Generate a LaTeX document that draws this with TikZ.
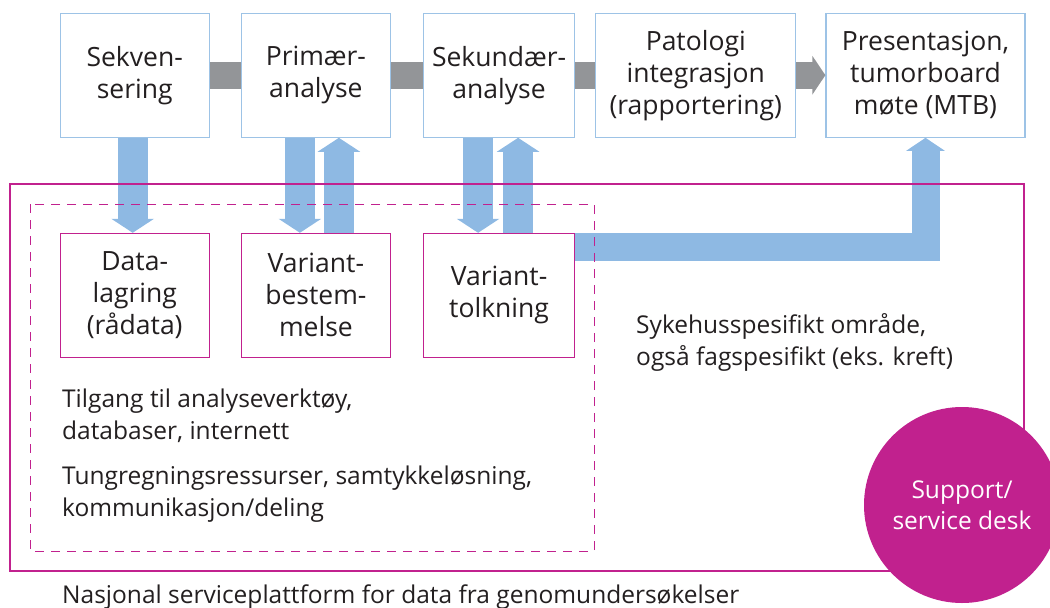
\documentclass[tikz,border=0pt]{standalone}
\usepackage{fontspec}
\setmainfont{Open Sans}
\usepackage{tikz}
\usetikzlibrary{calc,arrows.meta}

\definecolor{fhimagenta}{RGB}{193,33,142}
\definecolor{flowblue}{RGB}{142,185,227}
\definecolor{frameblue}{RGB}{157,195,230}
\definecolor{flowgrey}{RGB}{147,149,152}
\definecolor{inkgrey}{RGB}{35,31,32}

\pgfdeclarelayer{background}
\pgfsetlayers{background,main}

\begin{document}
\begin{tikzpicture}[x=1pt,y=-1pt,auto,text=inkgrey]
       \tikzstyle{stage} = [rectangle, draw=frameblue, line width=1.2pt, fill=white, minimum width=149pt, minimum height=124pt, inner sep=0pt, align=center, font=\fontsize{26.5}{32}\selectfont];
       \tikzstyle{widestage} = [stage, minimum width=200pt];
       \tikzstyle{task} = [stage, draw=fhimagenta];
       \tikzstyle{flow} = [draw=flowgrey, line width=27pt];
       \tikzstyle{feed} = [draw=flowblue, line width=30pt, -{Triangle[width=42pt,length=14pt]}];
       \tikzstyle{note} = [anchor=north west, align=left, inner sep=0pt, font=\fontsize{24.5}{32}\selectfont];

       \clip (0,0) rectangle (1050,608);

       \matrix [anchor=north west, inner sep=0pt, ampersand replacement=\&] at (59.4,12.4)
       {
         \node[stage](sekv){Sekven-\\sering}; \&[31pt]
         \node[stage](prim){Primær-\\analyse}; \&[32pt]
         \node[stage, minimum width=151pt](sekund){Sekundær-\\analyse}; \&[20pt]
         \node[widestage](pato){Patologi\\integrasjon\\(rapportering)}; \&[29pt]
         \node[widestage, minimum width=199pt](pres){Presentasjon,\\tumorboard\\møte (MTB)}; \\[95pt]
         \node[task](data){Data-\\lagring\\(rådata)}; \&[31pt]
         \node[task](varb){Variant-\\bestem-\\melse}; \&[32pt]
         \node[task, minimum width=151pt](vtolk){Variant-\\tolkning}; \&[20pt]
         \&[29pt] \\
       };

       % hovedflyt
       \draw[flow] (sekv) -- (prim);
       \draw[flow] (prim) -- (sekund);
       \draw[flow] (sekund) -- (pato);
       \draw[flow, -{Triangle[width=38pt,length=13pt]}] (pato) -- (pres);

       \begin{pgfonlayer}{background}
       \draw[feed] ([xshift=-2pt]sekv.south) -- ([xshift=-2pt]data.north);
       \draw[feed] ([xshift=-16pt]prim.south) -- ([xshift=-16pt]varb.north);
       \draw[feed] ([xshift=23pt]varb.north) -- ([xshift=23pt]prim.south);
       \draw[feed] ([xshift=-21pt]sekund.south) -- ([xshift=-21pt]vtolk.north);
       \draw[feed] ([xshift=19pt]vtolk.north) -- ([xshift=19pt]sekund.south);
       \draw[feed, line width=28pt, -{Triangle[width=38pt,length=13pt]}] ([yshift=-14pt]vtolk.north east) -| (pres.south);
       \end{pgfonlayer}

       % omraader
       \draw[fhimagenta, line width=2pt] (10,184) rectangle (1024,571);
       \draw[fhimagenta, line width=1pt, dash pattern=on 9pt off 7pt] (30,204) rectangle (594,551);

       \node[note] (sykehus) at (636,313) {Sykehusspesifikt område,\\også fagspesifikt (eks. kreft)};
       \node[note] (tilgang) at (62,389) {Tilgang til analyseverktøy,\\databaser, internett};
       \node[note] (tungregning) at (62,466) {Tungregningsressurser, samtykkeløsning,\\kommunikasjon/deling};
       \node[note] (nasjonal) at (62,585) {Nasjonal serviceplattform for data fra genomundersøkelser};

       \node[circle, fill=fhimagenta, minimum size=196pt, text=white, align=center, font=\fontsize{24.5}{31}\selectfont] (support) at (962,505) {Support/\\service desk};
     \end{tikzpicture}
\end{document}
